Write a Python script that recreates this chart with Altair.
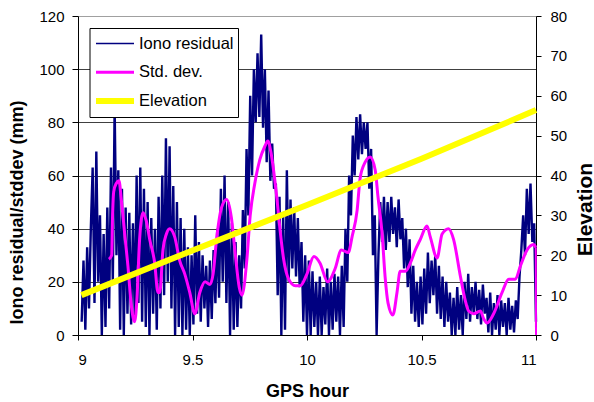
import altair as alt
import pandas as pd

# --- Ionospheric residual, sampled every 0.008 h from 09:00.96 GPS time (mm) ---
RESID_START = 9.016
RESID_STEP = 0.008
iono_residual = [
    5, 28, 2, 33, 10,     40, 63, 12, 69, 20,     45, 0, 38, 3, 48,
    10, 63, 20, 86, 30,   62, 2, 55, 0, 48,       8, 46, 4, 42, 6,
    60, 12, 63, 5, 55,    3, 50, 0, 44, 8,        40, 2, 52, 10, 60,
    15, 74, 20, 71, 10,   56, 0, 50, 3, 44,       0, 40, 2, 33, 0,
    30, 4, 45, 8, 35,     5, 30, 10, 26, 3,       28, 6, 32, 12, 40,
    14, 55, 20, 60, 12,   50, 0, 42, 2, 35,       3, 30, 10, 47, 25,
    70, 45, 90, 60, 100,  80, 106, 82, 113, 78,   100, 65, 92, 58, 72,
    55, 57, 15, 52, 0,    45, 2, 62, 20, 51,      25, 48, 22, 44, 18,
    35, 5, 30, 0, 28,     0, 24, 3, 20, 0,        22, 0, 18, 4, 25,
    0, 20, 2, 23, 5,      22, 0, 26, 3, 40,       20, 60, 45, 75, 60,
    82, 66, 83, 68, 80,   70, 80, 55, 70, 30,     45, 0, 30, 50, 35,
    52, 32, 50, 35, 52,   38, 48, 33, 51, 36,     44, 25, 40, 18, 36,
    8, 26, 5, 20, 3,      22, 4, 25, 8, 31,       12, 28, 15, 30, 8,
    26, 6, 22, 3, 20,     5, 16, 0, 14, 0,        18, 2, 15, 0, 20,
    6, 23, 5, 18, 8,      20, 6, 17, 4, 19,       8, 14, 1, 16, 0,
    12, 2, 15, 0, 13,     3, 12, 0, 14, 2,        11, 1, 13, 6, 22,
    32, 45, 30, 55, 38,   57, 35, 42, 5,
]

# --- Standard deviation of the residual (mm) ---
stddev_hour = [
    9.135, 9.147, 9.151, 9.156, 9.167, 9.179, 9.189, 9.204, 9.218, 9.233,
    9.247, 9.257, 9.269, 9.284, 9.298, 9.313, 9.335, 9.349, 9.357, 9.371,
    9.386, 9.400, 9.422, 9.444, 9.466, 9.488, 9.510, 9.532, 9.555, 9.576,
    9.590, 9.605, 9.627, 9.649, 9.670, 9.685, 9.704, 9.716, 9.737, 9.752,
    9.772, 9.794, 9.816, 9.829, 9.842, 9.854, 9.869, 9.883, 9.898, 9.920,
    9.949, 9.970, 10.000, 10.030, 10.057, 10.090, 10.123, 10.150, 10.180, 10.197,
    10.219, 10.232, 10.254, 10.276, 10.298, 10.310, 10.328, 10.341, 10.354, 10.375,
    10.393, 10.407, 10.430, 10.451, 10.473, 10.495, 10.524, 10.538, 10.568, 10.590,
    10.618, 10.640, 10.670, 10.691, 10.706, 10.728, 10.757, 10.772, 10.786, 10.815,
    10.852, 10.881, 10.910, 10.932, 10.961, 10.990, 10.999,
]
stddev_mm = [
    28.5, 30, 45, 54, 57, 58, 51, 38, 26, 11,
    5, 13, 36, 46, 43, 36, 27, 16, 16, 32,
    38, 40, 37, 28, 23, 16, 8, 16, 20, 19,
    23, 36, 48, 51, 44, 32, 18, 15, 28, 45,
    57, 66, 71, 73, 69, 62, 51, 39, 28.5, 21,
    18.5, 18.5, 23, 29.5, 27, 20, 25, 32, 31, 37,
    47, 59, 65, 67, 62, 52, 38, 22, 12, 7.5,
    16, 24, 24, 27, 32, 36, 41, 37, 29, 38,
    40, 36, 22, 13, 9, 8, 9, 6, 4.5, 8,
    16, 21, 21, 26, 32, 34, 33,
]
# the std. dev. trace falls back to zero at the end of the pass
stddev_end_hour = [10.999, 11.0]
stddev_end_mm = [33, 0]

# --- Satellite elevation (degrees) ---
elev_hour = [9.015, 9.5, 10.0, 10.5, 11.0]
elev_deg = [10.0, 21.2, 32.6, 44.2, 56.4]

series_names = ["Iono residual", "Std. dev.", "Elevation"]

# styling
COLORS = {"Iono residual": "#000080", "Std. dev.": "#ff00ff", "Elevation": "#ffff00"}
LEGEND_WIDTHS = {"Iono residual": 1.6, "Std. dev.": 3, "Elevation": 6}
FONT = "Liberation Sans"

resid_df = pd.DataFrame({
    "hour": [round(RESID_START + RESID_STEP * i, 4) for i in range(len(iono_residual))],
    "value": iono_residual,
    "idx": range(len(iono_residual)),
})
std_df = pd.DataFrame({"hour": stddev_hour, "value": stddev_mm})
std_end_df = pd.DataFrame({"hour": stddev_end_hour, "value": stddev_end_mm, "idx": [0, 1]})
elev_df = pd.DataFrame({"hour": elev_hour, "elev": elev_deg})

x_enc = alt.X(
    "hour:Q",
    scale=alt.Scale(domain=[9, 11], nice=False, zero=False),
    axis=alt.Axis(
        title="GPS hour", values=[9, 9.5, 10, 10.5, 11], format="~g", grid=False,
        tickSize=5, labelPadding=12, titleY=56, titleBaseline="middle",
    ),
)

left_y = alt.Y(
    "value:Q",
    scale=alt.Scale(domain=[0, 120], nice=False),
    axis=alt.Axis(
        title="Iono residual/stddev (mm)", values=list(range(0, 121, 20)),
        grid=True,
        gridColor=alt.condition("datum.value == 120", alt.value("#a0a0a0"), alt.value("#404040")),
        tickSize=6, labelPadding=8,
        titleX=-61, titleY=196, titleBaseline="middle", titleAngle=270,
    ),
)
left_y_plain = alt.Y("value:Q", scale=alt.Scale(domain=[0, 120], nice=False))

resid = alt.Chart(resid_df).mark_line(
    color=COLORS["Iono residual"], strokeWidth=2.4
).encode(x=x_enc, y=left_y, order="idx:Q")

stddev = alt.Chart(std_df).mark_line(
    color=COLORS["Std. dev."], strokeWidth=3, interpolate="monotone"
).encode(x=x_enc, y=left_y_plain)

stddev_end = alt.Chart(std_end_df).mark_line(
    color=COLORS["Std. dev."], strokeWidth=2
).encode(x=x_enc, y=left_y_plain, order="idx:Q")

left_layer = alt.layer(resid, stddev, stddev_end)

elev = alt.Chart(elev_df).mark_line(
    color=COLORS["Elevation"], strokeWidth=6
).encode(
    x=x_enc,
    y=alt.Y(
        "elev:Q",
        scale=alt.Scale(domain=[0, 80], nice=False),
        axis=alt.Axis(
            orient="right", title="Elevation", values=list(range(0, 81, 10)), grid=False,
            tickSize=5, labelPadding=9, titleFontSize=21,
            titleX=49, titleY=193, titleAngle=270, titleBaseline="middle",
        ),
    ),
)

# legend box drawn inside the plot area
one = pd.DataFrame({"k": [0]})
legend_layers = [
    alt.Chart(one).mark_rect(fill="white", stroke="black", strokeWidth=1).encode(
        x=alt.value(12), x2=alt.value(160.5), y=alt.value(12.5), y2=alt.value(101.5)
    )
]
for row, name in enumerate(series_names):
    ypos = 27.5 + row * 28.8
    legend_layers.append(
        alt.Chart(one).mark_rule(color=COLORS[name], strokeWidth=LEGEND_WIDTHS[name]).encode(
            x=alt.value(18), x2=alt.value(56), y=alt.value(ypos)
        )
    )
    legend_layers.append(
        alt.Chart(one).mark_text(
            text=name, align="left", baseline="middle", font=FONT, fontSize=16.5, color="black"
        ).encode(x=alt.value(61), y=alt.value(ypos))
    )

chart = (
    alt.layer(left_layer, elev, *legend_layers)
    .resolve_scale(y="independent")
    .properties(
        width=458,
        height=319,
        padding={"left": 78, "top": 16, "right": 58, "bottom": 67},
        autosize=alt.AutoSizeParams(type="none"),
        background="white",
    )
    .configure_view(stroke="transparent")
    .configure_axis(
        labelFont=FONT, labelFontSize=15, labelColor="black",
        titleFont=FONT, titleFontSize=18, titleFontWeight="bold", titleColor="black",
        domainColor="black", domainWidth=1, tickColor="black", tickWidth=1,
    )
)

chart.save("out.html", embed_options={"renderer": "svg", "actions": False})
